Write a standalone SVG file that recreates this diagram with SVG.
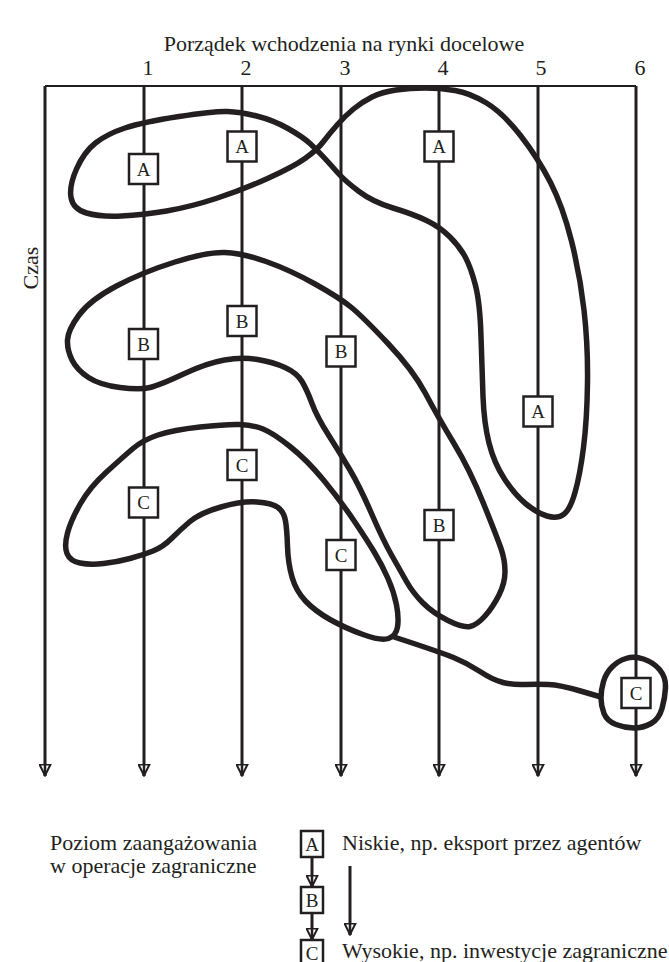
<svg xmlns="http://www.w3.org/2000/svg" width="669" height="962" viewBox="0 0 669 962">
<style>
  .ln{stroke:#231f20;stroke-width:3;fill:none}
  .top{stroke:#231f20;stroke-width:2;fill:none}
  .cv{stroke:#231f20;stroke-width:5.5;fill:none;stroke-linejoin:round}
  .bx{fill:#fff;stroke:#231f20;stroke-width:2.5}
  .bt{font-family:"Liberation Serif","Times New Roman",serif;font-size:19px;fill:#231f20;text-anchor:middle}
  .tx{font-family:"Liberation Serif","Times New Roman",serif;font-size:22px;fill:#231f20}
</style>
<defs>
  <marker id="ah" viewBox="0 0 13 13" markerWidth="13" markerHeight="13" refX="12.5" refY="6.5" markerUnits="userSpaceOnUse" orient="auto">
    <path d="M1,1 L12,6.5 L1,12 Z" fill="#fff" stroke="#231f20" stroke-width="2"/>
    <path d="M0,6.5 L12.5,6.5" stroke="#231f20" stroke-width="2.5"/>
  </marker>
</defs>
<rect width="669" height="962" fill="#fff"/>

<text class="tx" x="344" y="51" text-anchor="middle">Porządek wchodzenia na rynki docelowe</text>
<g class="tx" text-anchor="middle">
  <text x="148" y="75">1</text>
  <text x="246" y="75">2</text>
  <text x="345" y="75">3</text>
  <text x="443" y="75">4</text>
  <text x="541" y="75">5</text>
  <text x="640" y="75">6</text>
</g>
<text class="tx" transform="translate(38,268) rotate(-90)" text-anchor="middle">Czas</text>

<g id="connectors">
  <path class="top" d="M45,86 L636,86"/>
  <path class="ln" d="M45,86 L45,776" marker-end="url(#ah)"/>
  <path class="ln" d="M144,86 L144,776" marker-end="url(#ah)"/>
  <path class="ln" d="M242,86 L242,776" marker-end="url(#ah)"/>
  <path class="ln" d="M341,86 L341,776" marker-end="url(#ah)"/>
  <path class="ln" d="M439,86 L439,776" marker-end="url(#ah)"/>
  <path class="ln" d="M538,86 L538,776" marker-end="url(#ah)"/>
  <path class="ln" d="M636,86 L636,776" marker-end="url(#ah)"/>
  <path class="ln" d="M312,857 L312,887" marker-end="url(#ah)"/>
  <path class="ln" d="M312,912 L312,940" marker-end="url(#ah)"/>
  <path class="ln" d="M350,866 L350,935" marker-end="url(#ah)"/>
</g>

<g id="groups">
  <path id="group-A" class="cv" d="M323.5,141.5 Q330,133 337.5,124.5 Q345,116 353.5,109 Q362,102 372,97 Q382,92 396,90 Q410,88 425,88 Q440,88 455,90.5 Q470,93 486.5,103 Q503,113 520.5,135.5 Q538,158 550.5,182.5 Q563,207 571.5,241 Q580,275 584,310 Q588,345 587.5,382.5 Q587,420 583.5,447.5 Q580,475 575,492.5 Q570,510 563.5,514.5 Q557,519 547,516 Q537,513 526,504 Q515,495 504.5,479 Q494,463 489,443 Q484,423 483,396.5 Q482,370 481,336.5 Q480,303 475.5,285.5 Q471,268 465.5,257.5 Q460,247 450,237 Q440,227 426.5,220.5 Q413,214 393,208 Q373,202 359,191.5 Q345,181 337.5,172.5 Q330,164 323.5,157 Q317,150 310,143.5 Q303,137 288,128.5 Q273,120 256.5,116 Q240,112 227.5,111.5 Q215,111 179,116.5 Q143,122 125,128 Q107,134 95.5,143 Q84,152 76.5,169 Q69,186 71,197.5 Q73,209 86.5,213 Q100,217 121.5,216 Q143,215 166.5,211 Q190,207 216,198.5 Q242,190 267.5,178.5 Q293,167 305,158.5 Q317,150 323.5,141.5 Z"/>
  <path id="group-B" class="cv" d="M175,262 Q207,252 224.5,252.5 Q242,253 266,261.5 Q290,270 315,284 Q340,298 351.5,307.5 Q363,317 388,343.5 Q413,370 425.5,393.5 Q438,417 454,443.5 Q470,470 483.5,503.5 Q497,537 501,548.5 Q505,560 505,571.5 Q505,583 499,595 Q493,607 485,616 Q477,625 470,626.5 Q463,628 448,620.5 Q433,613 423,603 Q413,593 406.5,581.5 Q400,570 391.5,555 Q383,540 371.5,513.5 Q360,487 350,470 Q340,453 328.5,435 Q317,417 312,403.5 Q307,390 302,381.5 Q297,373 285,367.5 Q273,362 257.5,359.5 Q242,357 224.5,360 Q207,363 183.5,374 Q160,385 150,387.5 Q140,390 120,387.5 Q100,385 88.5,377.5 Q77,370 72,360 Q67,350 67.5,340 Q68,330 79,315 Q90,300 116.5,286 Q143,272 175,262 Z"/>
  <path id="group-C" class="cv" d="M158,435 Q173,430 200,427 Q227,424 240,424.5 Q253,425 263,429 Q273,433 290,446.5 Q307,460 323.5,480 Q340,500 353.5,520 Q367,540 374.5,552.5 Q382,565 388,578.5 Q394,592 396.5,605 Q399,618 397.5,627 Q396,636 388.5,638.5 Q381,641 363,634.5 Q345,628 330,619.5 Q315,611 305.5,601 Q296,591 292,577 Q288,563 287.5,546.5 Q287,530 285.5,521 Q284,512 278,507.5 Q272,503 257,502 Q242,501 221,507 Q200,513 190,521.5 Q180,530 171.5,538.5 Q163,547 153,551 Q143,555 130,558.5 Q117,562 103.5,563.5 Q90,565 80,563 Q70,561 67,553.5 Q64,546 67.5,533 Q71,520 80.5,503.5 Q90,487 106.5,472 Q123,457 133,448.5 Q143,440 158,435 Z"/>
  <path id="group-C-link" class="cv" d="M394,637 Q440,652 453.5,657.5 Q467,663 480,671.5 Q493,680 503,682.5 Q513,685 525,684.5 Q537,684 548.5,684.5 Q560,685 580.5,691 L601,697"/>
  <path id="group-C6" class="cv" d="M603.5,681.5 Q606,673 612,667 Q618,661 626,658.5 Q634,656 643.5,659 Q653,662 659.5,669.5 Q666,677 665.5,687.5 Q665,698 662,708.5 Q659,719 651,723.5 Q643,728 634,728 Q625,728 616,724.5 Q607,721 604,713.5 Q601,706 601,698 Q601,690 603.5,681.5 Z"/>
</g>

<g id="n-A1"><rect class="bx" x="129" y="154" width="29" height="30"/><text class="bt" x="143.5" y="175.5">A</text></g>
<g id="n-A2"><rect class="bx" x="227.5" y="131.5" width="29" height="30"/><text class="bt" x="242" y="153">A</text></g>
<g id="n-A4"><rect class="bx" x="424.5" y="131.5" width="29" height="30"/><text class="bt" x="439" y="153">A</text></g>
<g id="n-B1"><rect class="bx" x="129" y="329" width="29" height="30"/><text class="bt" x="143.5" y="350.5">B</text></g>
<g id="n-B2"><rect class="bx" x="227.5" y="306" width="29" height="30"/><text class="bt" x="242" y="327.5">B</text></g>
<g id="n-B3"><rect class="bx" x="326.5" y="336.5" width="29" height="30"/><text class="bt" x="341" y="358">B</text></g>
<g id="n-A5"><rect class="bx" x="523.5" y="396.5" width="29" height="30"/><text class="bt" x="538" y="418">A</text></g>
<g id="n-C2"><rect class="bx" x="227.5" y="450" width="29" height="30"/><text class="bt" x="242" y="471.5">C</text></g>
<g id="n-C1"><rect class="bx" x="129" y="487.5" width="29" height="30"/><text class="bt" x="143.5" y="509">C</text></g>
<g id="n-B4"><rect class="bx" x="424.5" y="510" width="29" height="30"/><text class="bt" x="439" y="531.5">B</text></g>
<g id="n-C3"><rect class="bx" x="326.5" y="540" width="29" height="30"/><text class="bt" x="341" y="561.5">C</text></g>
<g id="n-C6"><rect class="bx" x="621.5" y="678" width="29" height="30"/><text class="bt" x="636" y="699.5">C</text></g>

<g id="legend">
  <text class="tx" x="50" y="850">Poziom zaangażowania</text>
  <text class="tx" x="50" y="873">w operacje zagraniczne</text>
  <g id="leg-A"><rect class="bx" x="301" y="831" width="22" height="26"/><text class="bt" x="312" y="850.5">A</text></g>
  <g id="leg-B"><rect class="bx" x="301" y="887" width="22" height="26"/><text class="bt" x="312" y="906.5">B</text></g>
  <g id="leg-C"><rect class="bx" x="301" y="940" width="22" height="26"/><text class="bt" x="312" y="959.5">C</text></g>
  <text class="tx" x="342" y="850">Niskie, np. eksport przez agentów</text>
  <text class="tx" x="342" y="958">Wysokie, np. inwestycje zagraniczne</text>
</g>
</svg>
